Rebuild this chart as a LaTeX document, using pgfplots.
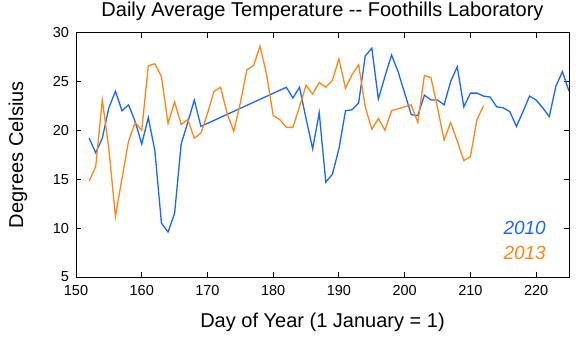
\documentclass[border=0pt]{standalone}
\usepackage{pgfplots}
\pgfplotsset{compat=1.18}
\usepackage{fontspec}
\setmainfont{Liberation Sans}
\definecolor{cblue}{RGB}{22,102,255}
\definecolor{corange}{RGB}{255,133,20}
\begin{document}
\begin{tikzpicture}
\useasboundingbox (-76pt,-61pt) rectangle (500pt,277pt);
\begin{axis}[
  at={(0,0)}, anchor=south west,
  scale only axis,
  width=493pt, height=244.5pt,
  xmin=150, xmax=225, ymin=5, ymax=30,
  xtick={150,160,...,220}, ytick={5,10,...,30},
  tick align=inside,
  major tick length=5pt,
  axis line style={line width=0.9pt},
  every tick/.style={line width=0.9pt, black},
  /pgf/number format/assume math mode=true,
  tick label style={font=\fontsize{14.5}{16}\selectfont, inner sep=1pt},
  xticklabel style={yshift=-7.5pt},
  yticklabel style={xshift=-5.8pt},
  title={Daily Average Temperature -{}- Foothills Laboratory},
  title style={at={(axis description cs:0.5,1.0417)}, anchor=base, font=\fontsize{20}{24}\selectfont},
  xlabel={Day of Year (1 January = 1)},
  xlabel style={at={(axis description cs:0.5,-0.2045)}, anchor=base, font=\fontsize{20}{24}\selectfont},
  ylabel={Degrees Celsius},
  ylabel style={at={(axis description cs:-0.1075,0.5)}, anchor=base, font=\fontsize{20}{24}\selectfont},
]
\addplot[cblue, line width=1.3pt] coordinates {
(152,19.2) (153,17.7) (154,19.2) (155,22.3) (156,24.0) (157,22.0) (158,22.6) (159,20.9)
(160,18.6) (161,21.3) (162,17.9) (163,10.5) (164,9.6) (165,11.5) (166,18.6) (167,20.8)
(168,23.1) (169,20.4) (182,24.4) (183,23.3) (184,24.4) (185,21.2) (186,18.1) (187,21.8)
(188,14.7) (189,15.5) (190,18.1) (191,22.0) (192,22.1) (193,22.8) (194,27.6) (195,28.4)
(196,23.2) (197,25.5) (198,27.7) (199,26.0) (200,23.8) (201,21.6) (202,21.5) (203,23.6)
(204,23.1) (205,23.1) (206,22.6) (207,25.0) (208,26.5) (209,22.4) (210,23.8) (211,23.8)
(212,23.5) (213,23.4) (214,22.4) (215,22.3) (216,21.9) (217,20.4) (218,21.9) (219,23.5)
(220,23.1) (221,22.3) (222,21.4) (223,24.5) (224,26.0) (225,24.0)
};
\addplot[corange, line width=1.3pt] coordinates {
(152,14.8) (153,16.3) (154,23.1) (155,18.1) (156,11.2) (157,15.1) (158,18.9) (159,20.8)
(160,20.0) (161,26.6) (162,26.8) (163,25.5) (164,20.7) (165,22.9) (166,20.6) (167,21.1)
(168,19.2) (169,19.7) (170,21.7) (171,24.0) (172,24.4) (173,21.7) (174,19.9) (175,22.8)
(176,26.2) (177,26.6) (178,28.6) (179,25.7) (180,21.5) (181,21.1) (182,20.3) (183,20.3)
(184,22.4) (185,24.6) (186,23.7) (187,24.9) (188,24.4) (189,25.1) (190,27.3) (191,24.3)
(192,25.7) (193,26.7) (194,22.4) (195,20.1) (196,21.2) (197,20.0) (198,22.0) (201,22.6)
(202,20.8) (203,25.6) (204,25.4) (205,22.3) (206,19.0) (207,20.8) (208,18.9) (209,16.9)
(210,17.3) (211,21.1) (212,22.5)
};
\node[anchor=base east, text=cblue, font=\fontsize{19}{22}\selectfont\itshape, inner sep=0pt] at (axis cs:221.5,9.34) {2010};
\node[anchor=base east, text=corange, font=\fontsize{19}{22}\selectfont\itshape, inner sep=0pt] at (axis cs:221.5,6.79) {2013};
\end{axis}
\end{tikzpicture}
\end{document}
